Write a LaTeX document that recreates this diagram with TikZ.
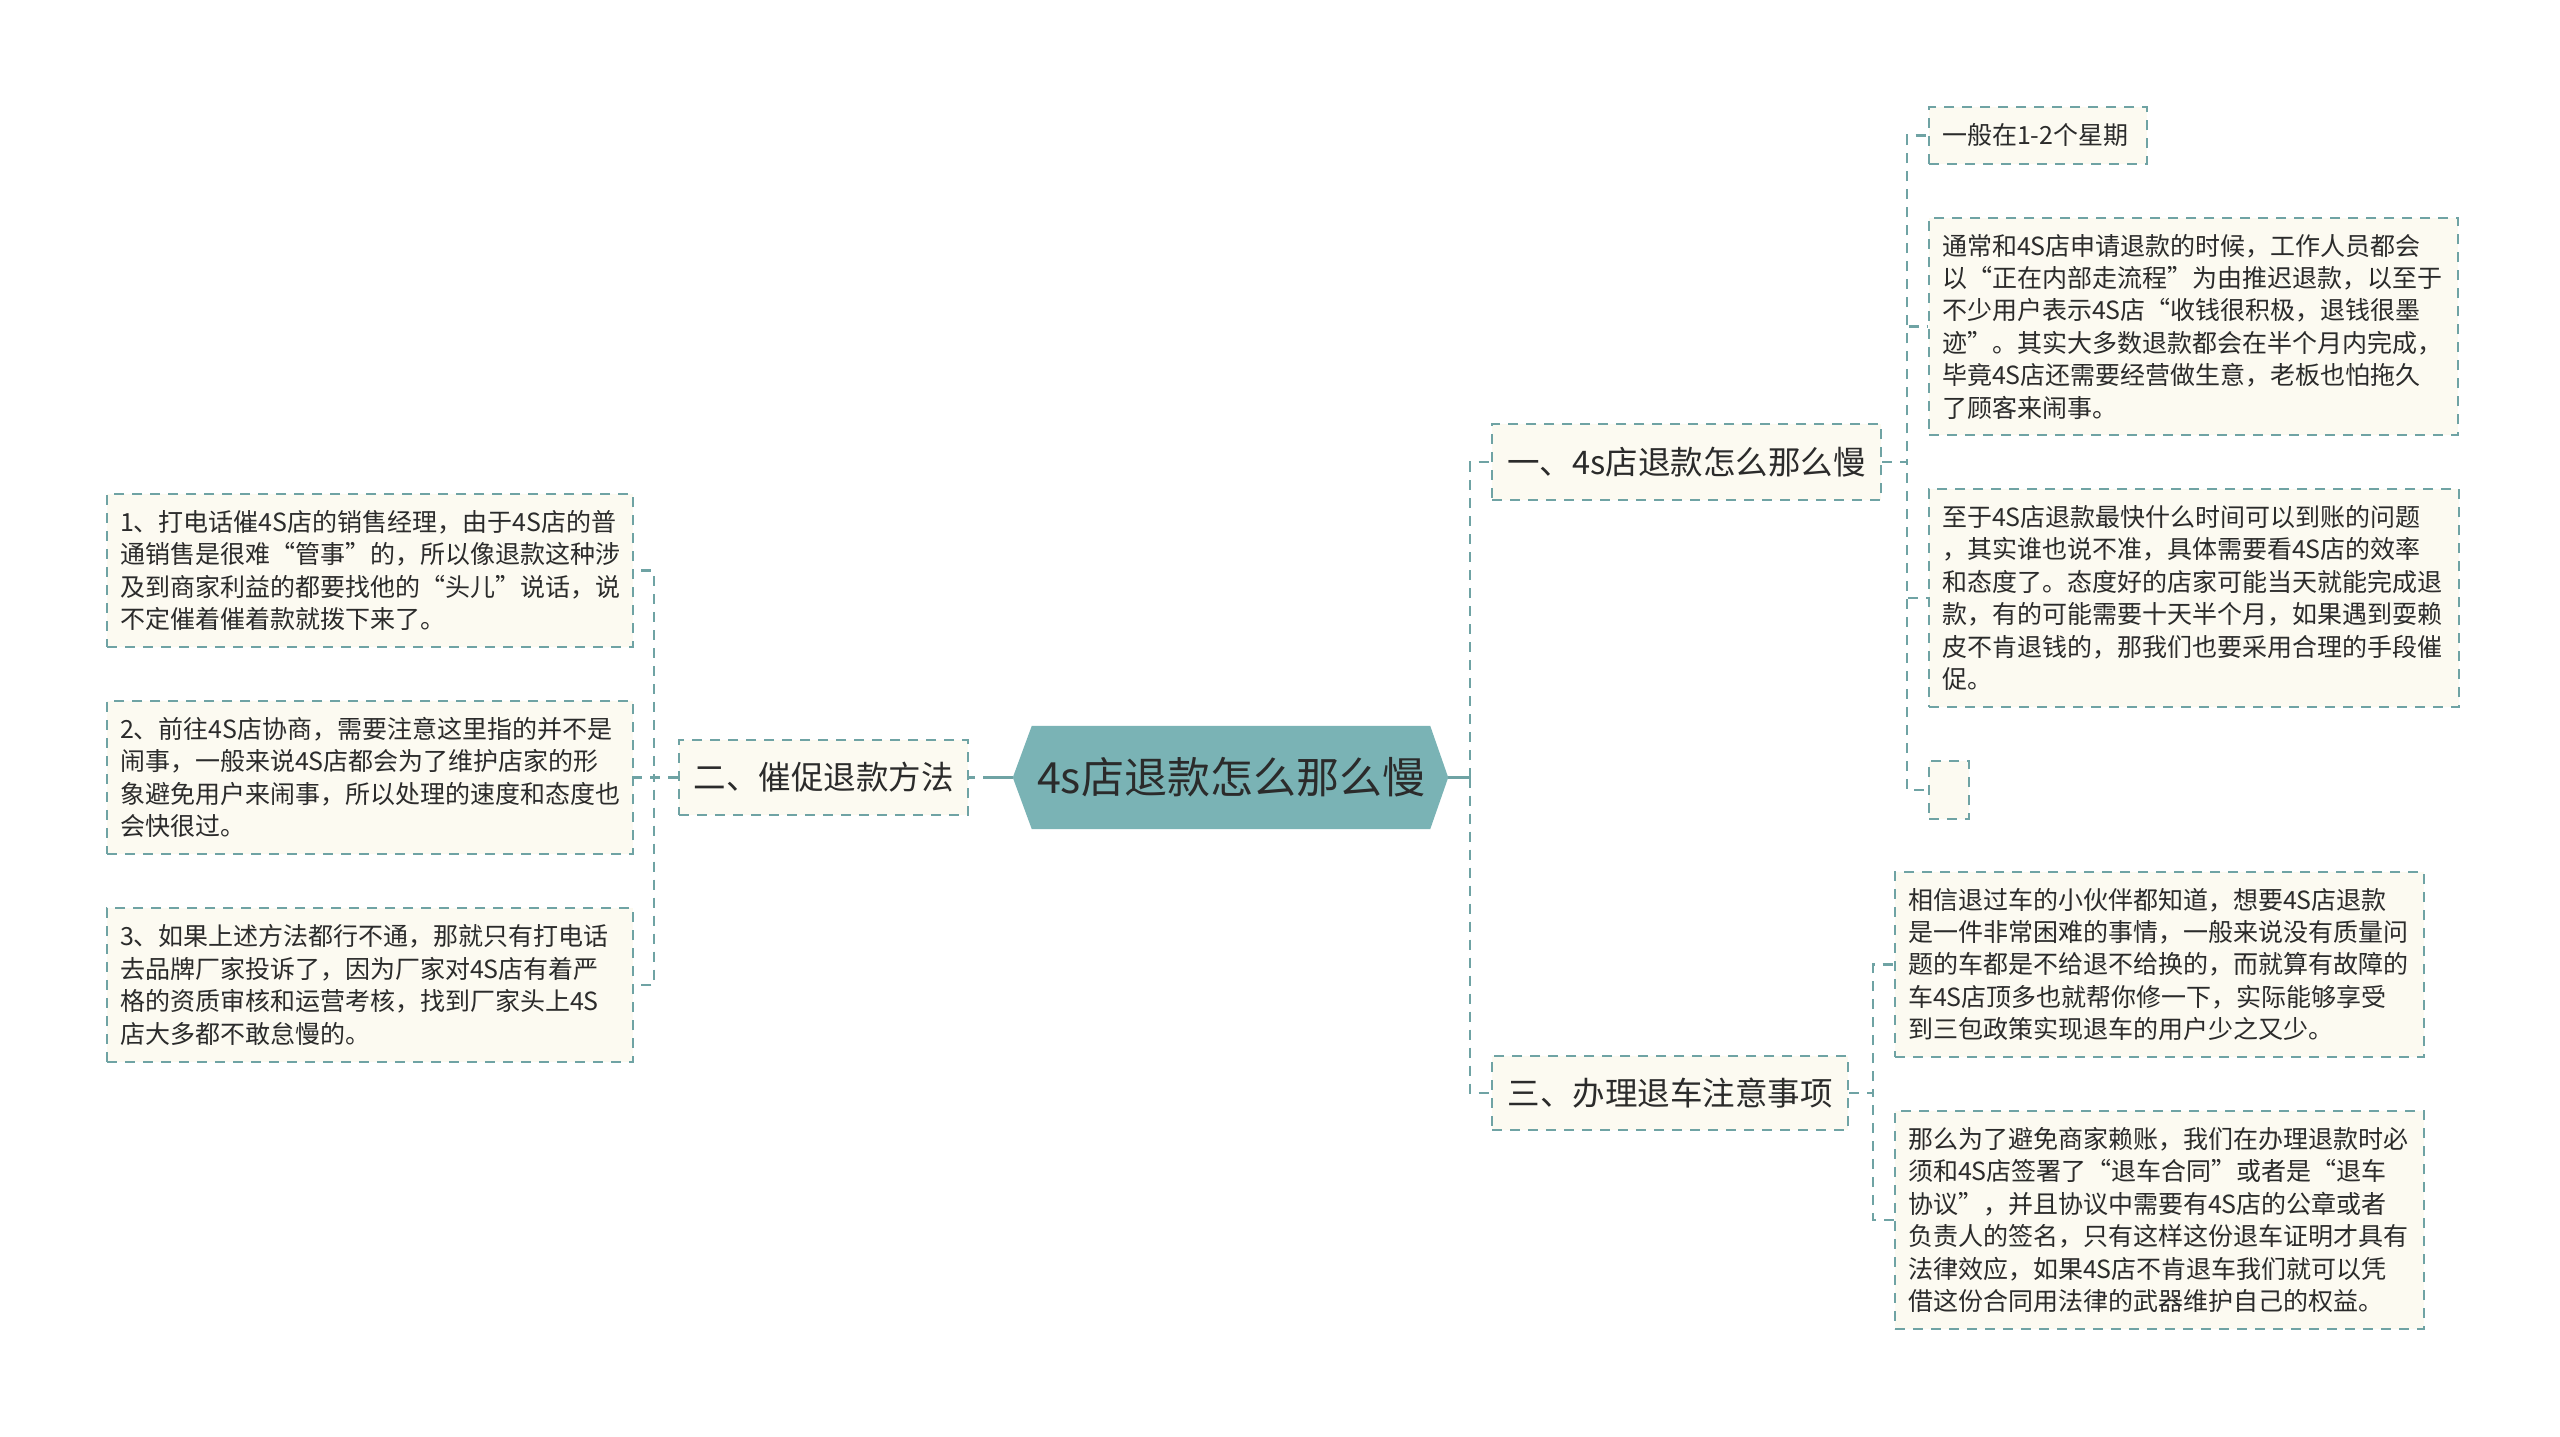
\documentclass[tikz,border=0pt]{standalone}
\usepackage{fontspec}
\setmainfont{Noto Sans CJK SC}
\usetikzlibrary{backgrounds}
\definecolor{linec}{HTML}{6FA3A4}
\definecolor{hexfill}{HTML}{7AB3B5}
\definecolor{boxfill}{HTML}{FCFAF1}
\definecolor{txt}{HTML}{2B2B2B}
\begin{document}
\begin{tikzpicture}[x=1pt,y=-1pt,
  box/.style={draw=linec, line width=2.2pt, dash pattern=on 10pt off 8pt, fill=boxfill, text=txt, anchor=center},
  leaf/.style={box, inner xsep=13pt, inner ysep=0pt, align=left, font=\fontsize{25}{32.4}\selectfont},
  branch/.style={box, inner xsep=0pt, inner ysep=0pt, align=center, font=\fontsize{32.5}{38}\selectfont},
  link/.style={draw=linec, line width=2.4pt, dash pattern=on 10pt off 8pt},
  solidlink/.style={draw=linec, line width=2.6pt},
]
\useasboundingbox (0,0) rectangle (2560,1437);

% central node
\node[text=txt, font=\fontsize{43}{48}\selectfont, minimum width=398pt, minimum height=103pt, inner sep=0pt] (ctr) at (1231,777.5) {4s店退款怎么那么慢};
\coordinate (ctrW) at ([xshift=-19pt]ctr.west);
\coordinate (ctrE) at ([xshift=18pt]ctr.east);

% branches
\node[branch, minimum width=389pt, minimum height=76pt] (B1) at (1686.5,462) {一、4s店退款怎么那么慢};
\node[branch, minimum width=289pt, minimum height=75pt] (B2) at (823.5,777.5) {二、催促退款方法};
\node[branch, minimum width=356pt, minimum height=74pt] (B3) at (1670,1093) {三、办理退车注意事项};

% right-top leaves
\node[leaf, text width=192pt, minimum height=57pt] (C1) at (2038,135.5) {一般在1-2个星期};
\node[leaf, text width=503pt, minimum height=217pt] (C2) at (2193.5,326.5) {通常和4S店申请退款的时候，工作人员都会\\以“正在内部走流程”为由推迟退款，以至于\\不少用户表示4S店“收钱很积极，退钱很墨\\迹”。其实大多数退款都会在半个月内完成，\\毕竟4S店还需要经营做生意，老板也怕拖久\\了顾客来闹事。};
\node[leaf, text width=504pt, minimum height=218pt] (C3) at (2194,598) {至于4S店退款最快什么时间可以到账的问题\\，其实谁也说不准，具体需要看4S店的效率\\和态度了。态度好的店家可能当天就能完成退\\款，有的可能需要十天半个月，如果遇到耍赖\\皮不肯退钱的，那我们也要采用合理的手段催\\促。};
\node[box, inner sep=0pt, minimum width=40pt, minimum height=58pt] (C4) at (1949,790) {};

% right-bottom leaves
\node[leaf, text width=503pt, minimum height=185pt] (D1) at (2159.5,964.5) {相信退过车的小伙伴都知道，想要4S店退款\\是一件非常困难的事情，一般来说没有质量问\\题的车都是不给退不给换的，而就算有故障的\\车4S店顶多也就帮你修一下，实际能够享受\\到三包政策实现退车的用户少之又少。};
\node[leaf, text width=503pt, minimum height=218pt] (D2) at (2159.5,1220) {那么为了避免商家赖账，我们在办理退款时必\\须和4S店签署了“退车合同”或者是“退车\\协议”，并且协议中需要有4S店的公章或者\\负责人的签名，只有这样这份退车证明才具有\\法律效应，如果4S店不肯退车我们就可以凭\\借这份合同用法律的武器维护自己的权益。};

% left leaves
\node[leaf, text width=500pt, minimum height=153pt] (L1) at (370,570.5) {1、打电话催4S店的销售经理，由于4S店的普\\通销售是很难“管事”的，所以像退款这种涉\\及到商家利益的都要找他的“头儿”说话，说\\不定催着催着款就拨下来了。};
\node[leaf, text width=500pt, minimum height=153pt] (L2) at (370,777.5) {2、前往4S店协商，需要注意这里指的并不是\\闹事，一般来说4S店都会为了维护店家的形\\象避免用户来闹事，所以处理的速度和态度也\\会快很过。};
\node[leaf, text width=500pt, minimum height=154pt] (L3) at (370,985) {3、如果上述方法都行不通，那就只有打电话\\去品牌厂家投诉了，因为厂家对4S店有着严\\格的资质审核和运营考核，找到厂家头上4S\\店大多都不敢怠慢的。};

% background: white page and hexagon
\begin{pgfonlayer}{background}
\fill[white] (0,0) rectangle (2560,1437);
\fill[hexfill] (ctrW) -- (ctr.north west) -- (ctr.north east) -- (ctrE) -- (ctr.south east) -- (ctr.south west) -- cycle;
% connectors
\draw[solidlink, dash pattern=on 30pt off 8pt] (ctrW) -- (B2.east);
\coordinate (jR) at ([xshift=22pt]ctrE);
\draw[solidlink] (ctrE) -- (jR);
\draw[link] (jR) |- (B1.west);
\draw[link] (jR) |- (B3.west);
\draw[link] (B2.west) -- ++(-24,0) |- (L1.east);
\draw[link] (B2.west) -- ++(-24,0) |- (L2.east);
\draw[link] (B2.west) -- ++(-24,0) |- (L3.east);
\draw[link] (B1.east) -- ++(25,0) |- (C1.west);
\draw[link] (B1.east) -- ++(25,0) |- (C2.west);
\draw[link] (B1.east) -- ++(25,0) |- (C3.west);
\draw[link] (B1.east) -- ++(25,0) |- (C4.west);
\draw[link] (B3.east) -- ++(24,0) |- (D1.west);
\draw[link] (B3.east) -- ++(24,0) |- (D2.west);
\end{pgfonlayer}
\end{tikzpicture}
\end{document}
